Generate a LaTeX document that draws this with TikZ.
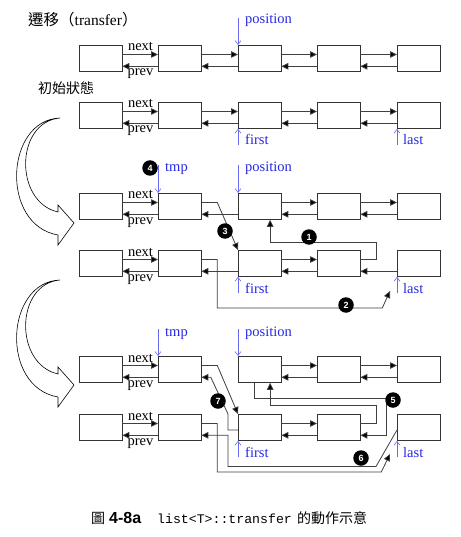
\documentclass[tikz,border=0pt]{standalone}
\usepackage{fontspec}
\setmainfont{Liberation Serif}
\setsansfont{Liberation Sans}
\setmonofont{Liberation Mono}
\newfontfamily\cjk{Noto Sans CJK TC}
\usetikzlibrary{arrows.meta}
\definecolor{ptrtext}{RGB}{40,40,230}
\definecolor{ptrline}{RGB}{105,105,240}
\newcommand\nextlink[2]{\draw[lnk] ([yshift=-9.5pt]#1.north east) -- ([yshift=-9.5pt]#2.north west);}
\newcommand\prevlink[2]{\draw[lnk] ([yshift=5.5pt]#1.south west) -- ([yshift=5.5pt]#2.south east);}
\begin{document}
\begin{tikzpicture}[x=1pt,y=-1pt,
  box/.style={draw=black!80, line width=0.8pt, fill=white, minimum width=42.5pt, minimum height=26pt, inner sep=0pt, anchor=north west},
  lnk/.style={draw=black!75, line width=0.8pt, -{Triangle[length=7pt,width=6.5pt,fill=black]}},
  ptr/.style={draw=ptrline, line width=0.6pt, -{Straight Barb[length=4pt,width=6pt]}},
  plabel/.style={text=ptrtext, anchor=base west, inner sep=0pt, font=\fontsize{14.5}{14.5}\selectfont},
  lbl/.style={anchor=base, inner sep=0pt, font=\fontsize{14.5}{14.5}\selectfont},
  num/.style={circle, fill=black, text=white, inner sep=0pt, minimum size=15.5pt, font=\sffamily\bfseries\fontsize{9}{9}\selectfont},
  hollow/.style={draw=black, line width=0.6pt, fill=white}
]
\fill[white] (0,0) rectangle (460,537);
\useasboundingbox (0,0) rectangle (460,537);

% titles
\node[anchor=base west, inner sep=0pt, font=\fontsize{15.5}{15.5}\selectfont] (title) at (28,26) {{\cjk 遷移（}transfer{\cjk ）}};
\node[anchor=base west, inner sep=0pt, font=\cjk\fontsize{14}{14}\selectfont] (init) at (38,94) {初始狀態};

% boxes
\foreach \r/\y in {1/45,2/102,3/193,4/250,5/356,6/414}
  \foreach \c/\x in {1/79,2/158,3/238,4/317,5/397}
    \node[box] (r\r c\c) at (\x,\y) {};

% next / prev labels
\foreach \r/\y in {1/45,2/102,3/193,4/250,5/356,6/414}{
  \node[lbl] (nx\r) at (140.5,\y+6) {next};
  \node[lbl] (pv\r) at (140.5,\y+31) {prev};
}

% rows 1 and 2: complete lists
\foreach \r in {1,2}
  \foreach \a/\b in {1/2,2/3,3/4,4/5}{
    \nextlink{r\r c\a}{r\r c\b}
    \prevlink{r\r c\b}{r\r c\a}
  }

% row 3
\nextlink{r3c1}{r3c2} \nextlink{r3c3}{r3c4} \nextlink{r3c4}{r3c5}
\prevlink{r3c2}{r3c1} \prevlink{r3c3}{r3c2} \prevlink{r3c4}{r3c3} \prevlink{r3c5}{r3c4}
% row 4
\nextlink{r4c1}{r4c2} \nextlink{r4c3}{r4c4}
\prevlink{r4c2}{r4c1} \prevlink{r4c3}{r4c2} \prevlink{r4c4}{r4c3} \prevlink{r4c5}{r4c4}
% row 5
\nextlink{r5c1}{r5c2} \nextlink{r5c3}{r5c4} \nextlink{r5c4}{r5c5}
\prevlink{r5c2}{r5c1} \prevlink{r5c4}{r5c3} \prevlink{r5c5}{r5c4}
% row 6
\nextlink{r6c1}{r6c2} \nextlink{r6c3}{r6c4}
\prevlink{r6c2}{r6c1} \prevlink{r6c4}{r6c3}

% free ends
\coordinate (e2) at (390,291);
\coordinate (e6) at (390,454);

% stage 2 special links
\draw[lnk] ([yshift=-9.5pt]r3c2.north east) -- ++(16,0) -- (r4c3.north west);
\draw[lnk] ([yshift=-9.5pt]r4c4.north east) -- ++(16,0) -- ++(0,-17.5) -| ([xshift=10.5pt]r3c3.south);
\draw[lnk] ([yshift=-9.5pt]r4c2.north east) -- ++(16,0) -- ++(0,48.5) -- ++(165,0) -- (e2);

% stage 3 special links
\draw[lnk] ([yshift=-9.5pt]r5c2.north east) -- ++(16,0) -- (r6c3.north west);
\draw[lnk] ([yshift=-16pt]r6c3.north west) -- ++(-10,0) -- ++(0,-16) -- ([xshift=9.5pt,yshift=5.5pt]r5c2.south east) -- ([yshift=5.5pt]r5c2.south east);
\draw[lnk] ([xshift=-5.5pt]r5c3.south) -- ++(0,16) -- ++(132,0) |- ([yshift=5.5pt]r6c4.south east);
\draw[lnk] ([yshift=-9.5pt]r6c4.north east) -- ++(16,0) -- ++(0,-18) -| ([xshift=10.5pt]r5c3.south);
\draw[lnk] ([yshift=-9.5pt]r6c2.north east) -- ++(16,0) -- ++(0,48.5) -- ++(164,0) -- (e6);
\draw[lnk] ([yshift=-16pt]r6c5.north west) -- ++(-21,36.5) -- ++(-148,0) |- ([yshift=5.5pt]r6c2.south east);

% numbered markers
\node[num] (n1) at (309,237) {1};
\node[num] (n2) at (346,305) {2};
\node[num] (n3) at (225,231) {3};
\node[num] (n4) at (150,168) {4};
\node[num] (n5) at (393,400) {5};
\node[num] (n6) at (361,458) {6};
\node[num] (n7) at (218,401) {7};

% pointers
\coordinate (q1) at (238,18);   \draw[ptr] (q1) -- (r1c3.north west);
\node[plabel] (t1) at (245,24) {position};
\coordinate (q2) at (238,145);  \draw[ptr] (q2) -- (r2c3.south west);
\node[plabel] (t2) at (245,145) {first};
\coordinate (q3) at (397,145);  \draw[ptr] (q3) -- (r2c5.south west);
\node[plabel] (t3) at (403,145) {last};
\coordinate (q4) at (158,165);  \draw[ptr] (q4) -- (r3c2.north west);
\node[plabel] (t4) at (165,172) {tmp};
\coordinate (q5) at (238,165);  \draw[ptr] (q5) -- (r3c3.north west);
\node[plabel] (t5) at (245,172) {position};
\coordinate (q6) at (238,293);  \draw[ptr] (q6) -- (r4c3.south west);
\node[plabel] (t6) at (245,293) {first};
\coordinate (q7) at (397,293);  \draw[ptr] (q7) -- (r4c5.south west);
\node[plabel] (t7) at (403,293) {last};
\coordinate (q8) at (158,329);  \draw[ptr] (q8) -- (r5c2.north west);
\node[plabel] (t8) at (165,336) {tmp};
\coordinate (q9) at (238,329);  \draw[ptr] (q9) -- (r5c3.north west);
\node[plabel] (t9) at (245,336) {position};
\coordinate (q10) at (238,457); \draw[ptr] (q10) -- (r6c3.south west);
\node[plabel] (t10) at (245,457) {first};
\coordinate (q11) at (397,457); \draw[ptr] (q11) -- (r6c5.south west);
\node[plabel] (t11) at (403,457) {last};

% big hollow curved arrows
\draw[hollow] (60,118) .. controls (5,120) and (0,225) .. (58,235) -- (58,245) -- (74,223) -- (58,205) -- (58,212) .. controls (14,202) and (15,122) .. (60,118) -- cycle;
\draw[hollow, shift={(0,162)}] (60,118) .. controls (5,120) and (0,225) .. (58,235) -- (58,245) -- (74,223) -- (58,205) -- (58,212) .. controls (14,202) and (15,122) .. (60,118) -- cycle;

% caption
\node[anchor=base west, inner sep=0pt, font=\cjk\fontsize{14}{14}\selectfont] (c1) at (91,523) {圖};
\node[anchor=base west, inner sep=0pt, font=\sffamily\bfseries\fontsize{16}{16}\selectfont] (c2) at (109,523) {4-8a};
\node[anchor=base west, inner sep=0pt, font=\ttfamily\fontsize{13.2}{13.2}\selectfont] (c3) at (157,523) {list<T>::transfer};
\node[anchor=base west, inner sep=0pt, font=\cjk\fontsize{14}{14}\selectfont] (c4) at (297,523) {的動作示意};
\end{tikzpicture}
\end{document}
